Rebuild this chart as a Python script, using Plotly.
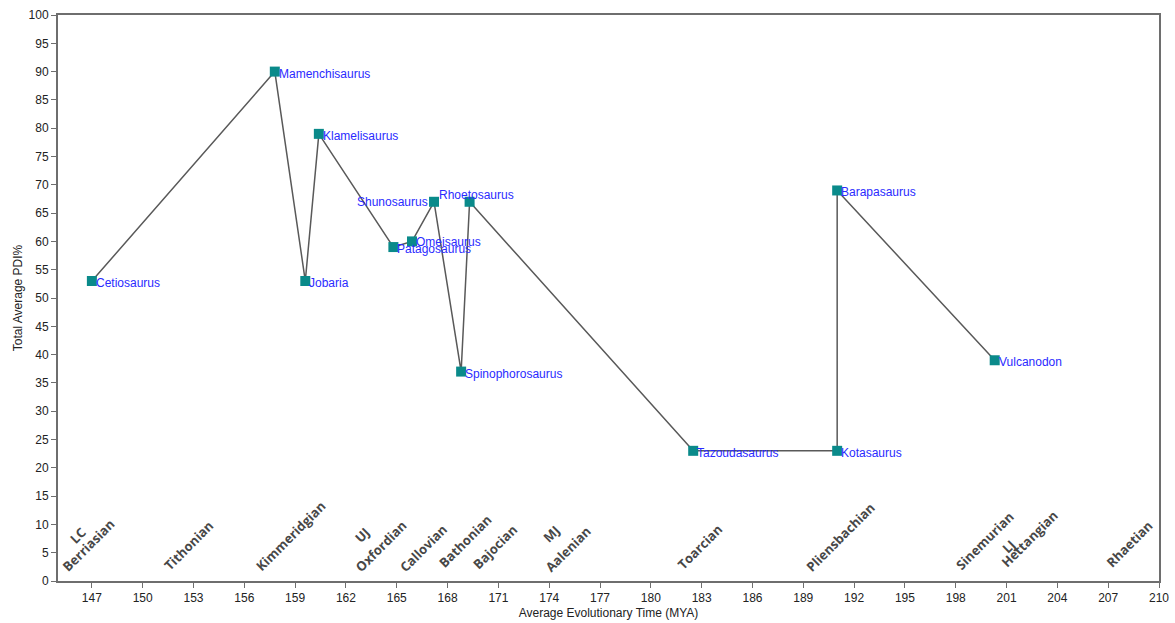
import plotly.graph_objects as go

# Sauropod taxa: average age (MYA) and total average PDI%
taxa = ["Cetiosaurus", "Mamenchisaurus", "Jobaria", "Klamelisaurus",
        "Patagosaurus", "Omeisaurus", "Shunosaurus", "Spinophorosaurus",
        "Rhoetosaurus", "Tazoudasaurus", "Kotasaurus", "Barapasaurus",
        "Vulcanodon"]
mya = [147, 157.8, 159.6, 160.4, 164.8, 165.9, 167.2, 168.8, 169.3,
       182.5, 191, 191, 200.3]
pdi = [53, 90, 53, 79, 59, 60, 67, 37, 67, 23, 23, 69, 39]

# Geological stages along the time axis
stages = ["Berriasian", "Tithonian", "Kimmeridgian", "Oxfordian", "Callovian",
          "Bathonian", "Bajocian", "Aalenian", "Toarcian", "Pliensbachian",
          "Sinemurian", "Hettangian", "Rhaetian"]
stage_x = [145.4, 151.4, 156.8, 162.7, 165.3, 167.6, 169.6, 173.9, 181.7,
           189.3, 198.1, 200.8, 207.0]
stage_y = [1.6, 1.9, 1.6, 1.6, 1.6, 2.3, 2.0, 1.6, 1.9, 1.6, 1.9, 2.3, 2.3]

# Epoch abbreviations
epochs = ["LC", "UJ", "MJ", "LJ"]
epoch_x = [145.85, 162.65, 173.75, 200.9]
epoch_y = [6.5, 6.7, 6.7, 4.8]

fig = go.Figure()
fig.add_trace(go.Scatter(
    x=mya, y=pdi, mode="lines+markers",
    line=dict(color="#595959", width=1.5),
    marker=dict(symbol="square", size=10, color="#0a8a8a"),
    hoverinfo="x+y+text", text=taxa, showlegend=False,
))

label_font = dict(family="Liberation Sans, Arial, sans-serif", size=12, color="#2a2aff")
annotations = []
for name, x, y in zip(taxa, mya, pdi):
    ann = dict(x=x, y=y, text=name, showarrow=False, font=label_font,
               xanchor="left", yanchor="middle", xshift=2, yshift=-2)
    if name == "Shunosaurus":
        ann.update(xanchor="right", xshift=-4, yshift=0)
    elif name == "Rhoetosaurus":
        ann.update(xshift=-33, yshift=7)
    elif name == "Omeisaurus":
        ann.update(yshift=-1)
    annotations.append(ann)

stage_font = dict(family="Open Sans, sans-serif", size=13, color="#474747", weight=700)
for name, x, y in zip(stages + epochs, stage_x + epoch_x, stage_y + epoch_y):
    annotations.append(dict(x=x, y=y, text=name, showarrow=False, textangle=-45,
                            font=stage_font, xanchor="left", yanchor="bottom",
                            xshift=-9, yshift=-6))

axis_common = dict(
    showline=True, linecolor="#6e6e6e", linewidth=2, mirror=True,
    ticks="outside", ticklen=5, tickcolor="#6e6e6e", tickwidth=1,
    showgrid=False, zeroline=False, automargin=False,
    tickfont=dict(family="Liberation Sans, Arial, sans-serif", size=12, color="#222"),
    title_font=dict(family="Liberation Sans, Arial, sans-serif", size=12, color="#222"),
)

fig.update_layout(
    width=1175, height=623,
    margin=dict(l=58, r=16, t=15, b=42),
    plot_bgcolor="white", paper_bgcolor="white",
    xaxis=dict(range=[145, 210], tick0=147, dtick=3,
               title=dict(text="Average Evolutionary Time (MYA)", standoff=4),
               **axis_common),
    yaxis=dict(range=[0, 100], dtick=5,
               title=dict(text="Total Average PDI%", standoff=3),
               **axis_common),
    annotations=annotations,
)

fig.write_html("out.html")
